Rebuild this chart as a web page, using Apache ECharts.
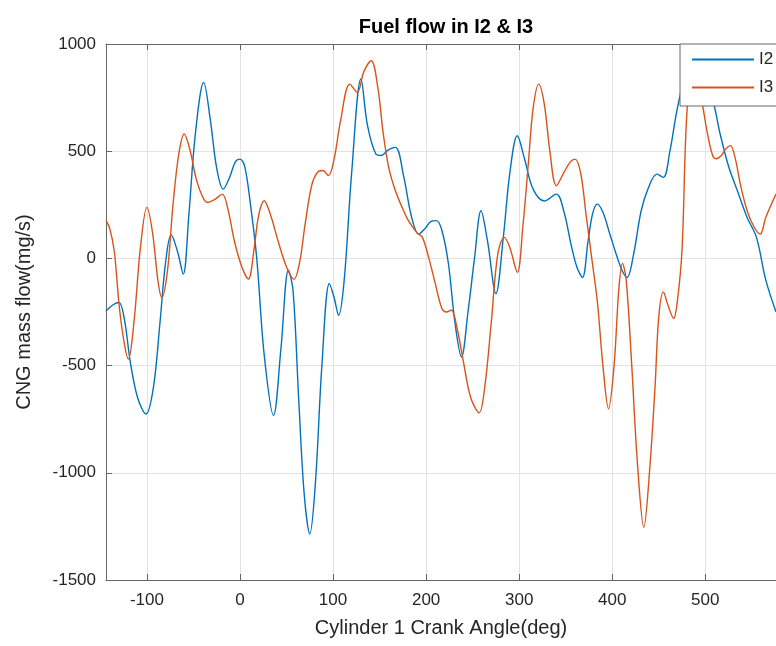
<!DOCTYPE html>
<html><head><meta charset="utf-8">
<script src="https://cdn.jsdelivr.net/npm/echarts@6/dist/echarts.min.js"></script>
<style>html,body{margin:0;padding:0;background:#fff;}#c{width:776px;height:646px;}</style>
</head><body><div id="c"></div>
<script>
const titleText = 'Fuel flow in I2 & I3';
const xName = 'Cylinder 1 Crank Angle(deg)';
const yName = 'CNG mass flow(mg/s)';
const seriesNames = ['I2', 'I3'];
const xTicks = [-100, 0, 100, 200, 300, 400, 500];
const yTicks = [-1500, -1000, -500, 0, 500, 1000];

const i2X = [-144,-136,-130,-124,-118,-110,-101,-93,-86,-80,-74,-67,-61,-55,-48,-39,-32,-25,-18,-11,-5,0,5,11,18,26,36,44,52,57,63,69,75,81,88,96,101,106,112,120,130,137,146,152,159,167,176,184,192,199,205,211,217,224,231,238,245,252,259,266,275,283,290,298,306,315,327,340,348,356,362,368,374,379,384,390,397,405,411,416,423,431,439,448,455,462,470,478,488,498,508,516,525,535,545,555,565,576];
const i2Y = [-245,-215,-206,-290,-480,-650,-726,-600,-300,-20,110,30,-73,200,580,821,650,420,323,380,450,463,430,260,0,-450,-733,-420,-55,-150,-650,-1100,-1285,-1050,-500,-117,-180,-265,-100,400,837,620,487,480,505,518,380,200,113,140,172,176,130,-26,-300,-460,-250,0,222,80,-164,100,400,572,460,323,268,300,220,60,-40,-89,80,210,253,215,120,10,-60,-89,20,220,331,393,378,500,700,830,870,850,740,580,430,310,191,98,-100,-250];

const i3X = [-144,-140,-135,-130,-125,-120,-114,-107,-100,-94,-88,-84,-78,-72,-66,-60,-54,-47,-40,-35,-27,-19,-13,-6,2,9,15,20,26,33,41,50,58,64,70,77,83,89,95,101,108,118,126,133,141,148,154,160,167,175,181,190,196,203,210,217,222,227,233,240,248,257,263,270,277,284,290,298,304,310,315,321,327,333,340,348,355,360,366,372,378,384,390,396,402,407,411,415,421,427,434,440,446,450,455,460,466,470,475,481,489,496,502,508,512,517,522,527,532,538,545,552,559,565,576];
const i3Y = [176,140,30,-214,-380,-470,-300,50,238,120,-110,-183,-60,250,480,580,510,370,285,261,275,300,230,80,-40,-96,40,200,269,200,80,-40,-98,-20,160,340,400,410,386,460,640,813,775,870,922,800,580,420,316,230,176,120,98,0,-120,-234,-250,-241,-320,-480,-650,-720,-600,-300,20,98,50,-65,150,450,700,813,720,500,339,400,450,463,400,200,0,-200,-500,-701,-500,-150,-23,-100,-500,-950,-1254,-1000,-600,-273,-156,-220,-280,-200,39,728,870,740,590,479,465,479,510,526,470,340,222,150,113,191,300];

const pairs = (xs, ys) => xs.map((x, i) => [x, ys[i]]);
const font = 'Liberation Sans, Arial, Helvetica, sans-serif';
const colors = ['#0072BD', '#D95319'];
const axisColor = '#666666';
const textColor = '#262626';

const chart = echarts.init(document.getElementById('c'), null, {renderer: 'canvas'});
chart.setOption({
  animation: false,
  backgroundColor: '#ffffff',
  color: colors,
  graphic: [{
    type: 'text', x: 446, y: 27,
    style: {text: titleText, align: 'center', verticalAlign: 'middle',
      font: 'bold 20px ' + font, fill: '#000'}
  }],
  legend: {
    orient: 'vertical', left: 680, top: 44,
    data: seriesNames.map(n => ({name: n, icon: 'rect'})),
    itemWidth: 62, itemHeight: 2, itemGap: 11,
    padding: [7, 20, 10, 12],
    backgroundColor: '#ffffff', borderColor: axisColor, borderWidth: 1,
    textStyle: {fontFamily: font, fontSize: 17, color: textColor, lineHeight: 16}
  },
  grid: {left: 106, top: 44, width: 680, height: 536, containLabel: false},
  xAxis: [{
    type: 'value', min: -144, max: 576, splitNumber: 7, position: 'bottom',
    name: xName, nameLocation: 'middle', nameGap: 38,
    nameTextStyle: {fontFamily: font, fontSize: 20, color: textColor},
    axisLine: {show: true, onZero: false, lineStyle: {color: axisColor, width: 1}},
    axisTick: {show: true, inside: true, length: 6, lineStyle: {color: axisColor}},
    axisLabel: {show: true, showMinLabel: false, showMaxLabel: false, margin: 12,
      fontFamily: font, fontSize: 17, color: textColor,
      formatter: v => (xTicks.indexOf(v) >= 0 ? String(v) : '')},
    splitLine: {show: true, lineStyle: {color: '#e3e3e3', width: 1}}
  }, {
    type: 'value', min: -144, max: 576, splitNumber: 7, position: 'top',
    axisLine: {show: true, onZero: false, lineStyle: {color: axisColor, width: 1}},
    axisTick: {show: true, inside: true, length: 6, lineStyle: {color: axisColor}},
    axisLabel: {show: false}, splitLine: {show: false}
  }],
  yAxis: [{
    type: 'value', min: yTicks[0], max: yTicks[yTicks.length - 1], interval: 500,
    name: yName, nameLocation: 'middle', nameGap: 72,
    nameTextStyle: {fontFamily: font, fontSize: 20, color: textColor},
    axisLine: {show: true, onZero: false, lineStyle: {color: axisColor, width: 1}},
    axisTick: {show: true, inside: true, length: 6, lineStyle: {color: axisColor}},
    axisLabel: {margin: 10, fontFamily: font, fontSize: 17, color: textColor,
      formatter: v => (yTicks.indexOf(v) >= 0 ? String(v) : '')},
    splitLine: {show: true, lineStyle: {color: '#e3e3e3', width: 1}}
  }],
  series: [
    {name: seriesNames[0], type: 'line', data: pairs(i2X, i2Y), showSymbol: false,
     smooth: 0.35, lineStyle: {width: 1.4, color: colors[0]}, itemStyle: {color: colors[0]}},
    {name: seriesNames[1], type: 'line', data: pairs(i3X, i3Y), showSymbol: false,
     smooth: 0.35, lineStyle: {width: 1.4, color: colors[1]}, itemStyle: {color: colors[1]}}
  ]
});
</script></body></html>
